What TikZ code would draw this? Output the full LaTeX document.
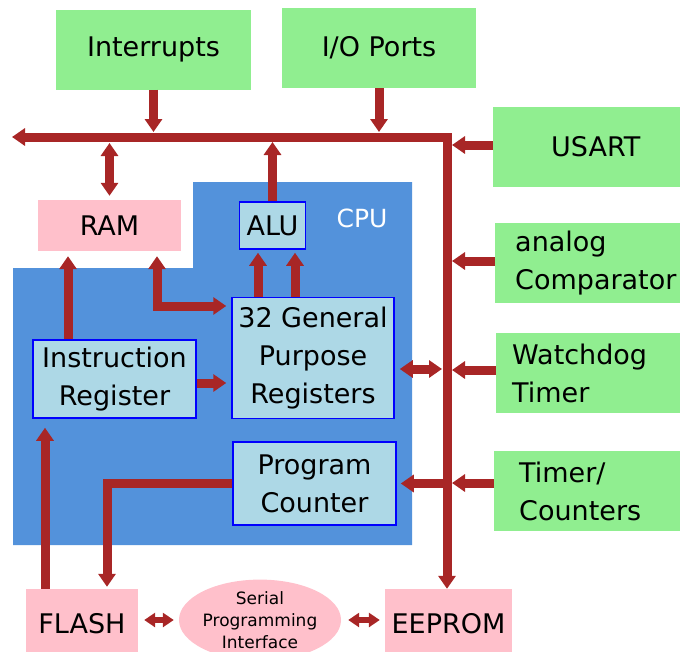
\documentclass[tikz,border=0pt]{standalone}
\usepackage{fontspec}
\setmainfont{DejaVu Sans}
\usetikzlibrary{arrows.meta,shapes.geometric,calc}

\definecolor{greenbox}{RGB}{144,238,144}
\definecolor{pinkbox}{RGB}{255,192,203}
\definecolor{cpublue}{RGB}{83,146,219}
\definecolor{unitblue}{RGB}{173,216,230}
\definecolor{busred}{RGB}{168,38,38}

\newcommand{\boxfont}{\fontsize{27}{38}\selectfont}
\newcommand{\spifont}{\fontsize{17}{22}\selectfont}

\tikzset{
	periph/.style={fill=greenbox, minimum height=80pt, inner sep=0pt, font=\boxfont},
	side/.style={periph, anchor=west, align=left, text width=200pt, inner xsep=#1},
	mem/.style={fill=pinkbox, inner sep=0pt, font=\boxfont},
	unit/.style={fill=unitblue, draw=blue, line width=1.5pt, inner sep=0pt, align=center, font=\boxfont},
	link/.style={draw=busred, line width=9pt, line join=miter, ->},
	dlink/.style={link, <->},
	thin link/.style={draw=busred, line width=6pt, <->, >={Triangle[length=11pt,width=14pt]}}
}

\begin{document}
\begin{tikzpicture}[x=1pt, y=-1pt, >={Triangle[length=13pt,width=17pt]}]
		\useasboundingbox (0,0) rectangle (680,651);
		\clip (0,0) rectangle (680,651);
		% cpu area
		\fill[cpublue] (193,182) -- (412,182) -- (412,545) -- (13,545) -- (13,268) -- (193,268) -- cycle;
		\node [text=white, font=\fontsize{25}{30}\selectfont] (cpulabel) at (362,218) {CPU};
		% peripherals
		\node [periph, minimum width=195pt] (intr) at (153.5,49.5) {Interrupts};
		\node [periph, minimum width=194pt] (ports) at (379,48) {I/O Ports};
		\node [side=58pt] (usart) at (493,147) {USART};
		\node [side=20pt] (acomp) at (495,263) {analog\\Comparator};
		\node [side=16pt] (wdt) at (496,373) {Watchdog\\Timer};
		\node [side=25pt] (tmr) at (494,491) {Timer/\\Counters};
		% memories
		\node [mem, minimum width=143pt, minimum height=51pt] (ram) at (109.5,225.5) {RAM};
		\node [mem, minimum width=112pt, minimum height=70pt] (flash) at (82,624) {FLASH};
		\node [mem, minimum width=127pt, minimum height=70pt] (eeprom) at (448.5,624) {EEPROM};
		\node [ellipse, fill=pinkbox, minimum width=146pt, minimum height=76pt, inner sep=0pt, align=center, font=\spifont] (spi) at (260,620) {Serial\\Programming\\Interface};
		% cpu units
		\node [unit, minimum width=66pt, minimum height=47pt] (alu) at (272.5,225.5) {ALU};
		\node [unit, minimum width=162pt, minimum height=121pt] (gp) at (313,358) {32 General\\Purpose\\Registers};
		\node [unit, minimum width=163pt, minimum height=78pt] (ir) at (114.5,379) {Instruction\\Register};
		\node [unit, minimum width=163pt, minimum height=83pt] (pc) at (314.5,483.5) {Program\\Counter};
		% bus
		\coordinate (busL) at (12,137);
		\coordinate (busC) at (447,137);
		\draw [dlink] (busL) -- (busC) -- (busC |- eeprom.north);
		\draw [link, shorten >=5pt] (intr) -- (intr |- busC);
		\draw [link, shorten >=5pt] (ports) -- (ports |- busC);
		\draw [link, shorten >=5pt] ([yshift=2pt]usart.west) -- ([yshift=2pt]usart.west -| busC);
		\draw [link, shorten >=5pt] ([yshift=2pt]acomp.west) -- ([yshift=2pt]acomp.west -| busC);
		\draw [link, shorten >=5pt] ([yshift=3pt]wdt.west) -- ([yshift=3pt]wdt.west -| busC);
		\draw [link, shorten >=5pt] ([yshift=8pt]tmr.west) -- ([yshift=8pt]tmr.west -| busC);
		\draw [dlink, shorten <=6pt, shorten >=4pt] (ram.north |- busC) -- (ram.north);
		\draw [link, shorten >=5pt] (alu) -- (alu |- busC);
		% inside the cpu
		\draw [link, shorten >=3pt] ([xshift=-14.5pt]alu.south |- gp.north) -- ([xshift=-14.5pt]alu.south);
		\draw [link, shorten >=3pt] ([xshift=22.5pt]alu.south |- gp.north) -- ([xshift=22.5pt]alu.south);
		\draw [dlink, shorten <=5pt, shorten >=5pt] ([xshift=47.5pt]ram.south) |- ([yshift=52pt]gp.west);
		\draw [link, shorten >=5pt] ([xshift=-46.5pt]ir.north) -- ([xshift=-46.5pt]ir.north |- ram.south);
		\draw [link, shorten >=5pt] ([yshift=-4pt]ir.east) -- ([yshift=-4pt]ir.east -| gp.west);
		\draw [dlink, shorten <=5pt, shorten >=5pt] ([yshift=-11pt]gp.east) -- ([yshift=-11pt]gp.east -| busC);
		\draw [link, shorten <=4.5pt, shorten >=4pt] (pc.east -| busC) -- (pc.east);
		\draw [link, shorten >=2pt] (pc.west) -| ([xshift=25pt]flash.north);
		\draw [link, shorten >=9pt] ([xshift=-37pt]flash.north) -- ([xshift=-37pt]flash.north |- ir.south);
		% programming
		\draw [thin link, shorten <=6pt, shorten >=5pt] (flash.east |- spi.west) -- (spi.west);
		\draw [thin link, shorten <=7pt, shorten >=5pt] (spi.east) -- (spi.east -| eeprom.west);
\end{tikzpicture}
\end{document}
